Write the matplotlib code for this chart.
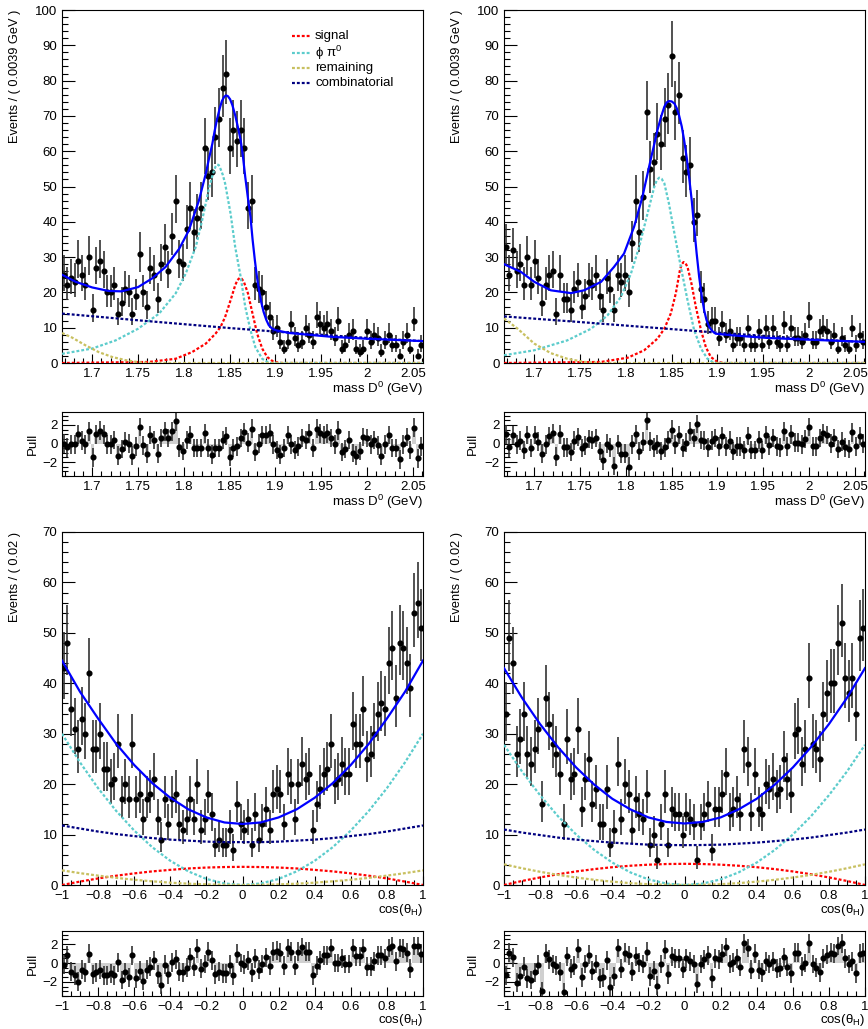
import numpy as np
import matplotlib
matplotlib.use("Agg")
import matplotlib.pyplot as plt
from matplotlib.ticker import MultipleLocator, FuncFormatter
from matplotlib.lines import Line2D

plt.rcParams['font.family'] = ['Liberation Sans', 'DejaVu Sans']
plt.rcParams['mathtext.fontset'] = 'custom'
plt.rcParams['mathtext.rm'] = 'Liberation Sans'
plt.rcParams['mathtext.it'] = 'Liberation Sans:italic'

# binning
nbins = 100
mass_range = (1.667, 2.061)
cos_range = (-1.0, 1.0)

# ---- data: mass D0, left and right samples ----
mass_counts_l = [25, 22, 24, 23, 29, 25, 22, 30, 15, 27, 29, 26, 20, 20, 22, 14, 17, 21, 20, 14,
                 19, 31, 20, 16, 27, 25, 18, 28, 33, 26, 36, 46, 29, 28, 38, 44, 37, 41, 44, 61,
                 53, 54, 64, 69, 78, 82, 61, 66, 63, 66, 61, 44, 46, 22, 21, 20, 16, 13, 9, 10,
                 6, 4, 6, 11, 7, 5, 6, 10, 8, 6, 13, 11, 10, 11, 9, 7, 12, 4, 5, 8,
                 9, 4, 3, 4, 9, 6, 8, 7, 3, 6, 8, 5, 5, 2, 6, 8, 4, 12, 2, 5]
mass_pull_l = [0.0, -0.4, -0.1, -0.1, 1.0, 0.3, -0.1, 1.3, -1.5, 1.0, 1.4, 1.0, -0.1, -0.1, 0.4, -1.3, -0.6, 0.2, 0.0, -1.3,
               -0.3, 1.8, -0.2, -1.1, 0.9, 0.4, -1.1, 0.6, 1.3, 0.6, 1.3, 2.4, -0.4, -0.8, 0.4, 0.9, -0.5, -0.5, -0.5, 1.1,
               -0.5, -1.2, -0.5, -0.5, 0.4, 0.8, -1.4, -0.5, -0.3, 0.6, 1.2, 0.1, 1.6, -0.9, 0.0, 0.9, 0.9, 1.1, -0.1, -0.7,
               -1.2, -0.5, 0.9, -0.1, -0.7, -0.3, 0.6, 0.4, 1.1, -0.5, 1.6, 1.1, 0.9, 1.1, 0.6, -0.1, 1.4, -0.9, -0.6, 0.4,
               -1.0, -1.3, -0.8, 0.7, 0.6, -0.1, 0.4, -0.2, -1.3, -0.1, 0.9, -0.5, -0.5, -1.7, -0.1, 0.7, -0.7, 1.7, -1.6, -0.3]

mass_counts_r = [33, 25, 32, 26, 28, 22, 30, 22, 29, 24, 17, 22, 25, 26, 14, 25, 18, 18, 15, 21,
                 23, 16, 19, 23, 22, 25, 19, 15, 24, 21, 15, 25, 23, 25, 20, 34, 46, 37, 47, 71,
                 55, 57, 65, 62, 69, 73, 87, 71, 76, 58, 54, 56, 40, 42, 21, 18, 11, 12, 12, 7,
                 11, 8, 9, 5, 7, 7, 5, 10, 5, 5, 9, 5, 10, 6, 10, 6, 5, 11, 5, 10,
                 7, 7, 6, 8, 13, 6, 6, 9, 10, 9, 6, 8, 4, 7, 5, 4, 10, 5, 8, 6]
mass_pull_r = [1.0, -0.4, 0.9, -0.1, 0.3, -0.7, 0.9, -0.5, 0.9, 0.2, -1.1, -0.1, 0.8, 1.1, -1.4, 1.0, -0.4, -0.4, -0.9, 0.3,
               0.7, -0.5, -0.2, 0.5, 0.4, 0.6, -0.8, -1.8, 0.0, -0.4, -2.4, -0.1, -1.1, -1.1, -2.5, -0.1, 1.0, -0.8, 0.2, 2.5,
               0.2, -0.4, -0.1, -0.8, -0.4, 0.4, 1.5, -0.1, 0.9, -0.5, 0.1, 1.3, 0.6, 2.1, 0.4, 0.3, -0.4, 0.3, 0.6, -0.3,
               0.8, -0.3, 0.3, -0.8, -0.3, -0.3, -0.7, 0.8, -0.7, -0.7, 0.4, -0.7, 0.9, -0.2, 0.6, -0.3, -0.4, 1.3, -0.3, 1.0,
               0.1, 0.1, -0.1, 0.5, 1.8, -0.3, -0.3, 0.6, 1.1, 0.9, 0.0, 0.6, -0.6, 0.2, -0.4, -0.6, 1.2, -0.3, 0.8, 0.0]

# ---- data: cos(theta_H) ----
cos_counts_l = [43, 48, 35, 31, 27, 33, 30, 42, 27, 27, 30, 23, 23, 20, 21, 28, 17, 20, 17, 28,
                17, 18, 13, 17, 18, 21, 13, 9, 17, 12, 17, 18, 12, 11, 13, 17, 13, 20, 11, 13,
                18, 14, 8, 9, 8, 8, 11, 7, 16, 12, 11, 13, 8, 14, 9, 12, 15, 11, 18, 19,
                18, 12, 22, 20, 13, 20, 24, 21, 22, 11, 16, 19, 22, 23, 28, 20, 21, 24, 22, 22,
                32, 28, 28, 35, 25, 26, 30, 34, 36, 35, 44, 47, 37, 48, 47, 44, 39, 54, 56, 51]
cos_pull_l = [-0.2, 0.8, -0.9, -1.3, -2.0, -0.7, -1.0, 1.0, -1.2, -1.0, -0.7, -1.3, -1.3, -1.1, -1.3, 0.1, -1.8, -1.0, -1.5, 0.8,
              -1.6, -0.8, -1.9, -0.7, -0.4, 0.3, -1.2, -2.3, -0.2, -1.2, 0.1, 0.4, -0.9, -1.0, -0.5, 0.6, -0.4, 1.5, -0.6, -0.1,
              1.2, 0.3, -1.2, -0.9, -1.1, -1.1, -0.2, -1.3, 1.0, 0.0, -0.2, 0.3, -1.0, 0.5, -0.7, -0.1, 0.6, -0.3, 1.2, 1.3,
              1.1, -0.3, 1.6, 1.2, -0.3, 1.2, 1.7, 1.2, 1.2, -1.3, -0.3, 0.3, 0.8, 0.8, 1.6, 0.0, 0.0, 0.5, -0.1, -0.1,
              1.6, 0.7, 0.7, 1.5, -0.4, -0.4, 0.2, 0.8, 0.8, 0.5, 1.6, 1.8, 0.2, 1.6, 1.5, 1.1, -0.6, 1.8, 1.8, 1.0]

cos_counts_r = [34, 49, 44, 26, 29, 34, 26, 24, 27, 31, 16, 37, 32, 28, 26, 22, 12, 29, 21, 22,
                31, 15, 21, 25, 16, 19, 12, 12, 19, 8, 11, 24, 13, 20, 18, 11, 17, 14, 13, 18,
                8, 10, 5, 12, 18, 8, 15, 14, 14, 10, 14, 13, 12, 5, 12, 14, 16, 7, 15, 15,
                18, 22, 14, 15, 17, 14, 27, 24, 14, 22, 15, 14, 20, 19, 21, 18, 19, 25, 21, 18,
                30, 31, 24, 27, 41, 28, 27, 25, 34, 38, 40, 40, 48, 52, 41, 38, 41, 34, 49, 51]
cos_pull_r = [-1.3, 1.1, 0.6, -2.1, -1.4, -0.4, -1.6, -1.8, -1.0, -0.2, -3.0, 1.0, 0.4, -0.1, -0.3, -0.9, -3.1, 0.7, -0.6, -0.3,
              1.5, -1.5, -0.1, 0.9, -0.8, -0.1, -1.6, -1.5, 0.3, -2.5, -1.4, 1.6, -0.6, 1.1, 0.8, -0.9, 0.7, 0.1, -0.1, 1.2,
              -1.4, -0.8, -2.4, -0.1, 1.4, -1.2, 0.7, 0.5, 0.5, -0.6, 0.5, 0.2, -0.1, -2.2, -0.1, 0.4, 0.8, -1.6, 0.5, 0.4,
              1.0, 1.7, -0.1, 0.1, 0.5, -0.4, 2.1, 1.6, -0.7, 1.0, -0.7, -1.0, 0.2, -0.1, 0.2, -0.6, -0.5, 0.6, -0.4, -1.1,
              1.1, 1.1, -0.4, 0.0, 2.1, -0.1, -0.5, -1.0, 0.5, 0.9, 1.1, 1.0, 1.8, 2.1, 0.5, -0.1, 0.2, -1.1, 1.0, 1.1]

# ---- fit curves (values read at sample points) ----
tot_l_x = [1.667, 1.682, 1.70, 1.718, 1.732, 1.75, 1.765, 1.78, 1.795, 1.8055, 1.8164, 1.824, 1.8275, 1.831,
           1.8335, 1.836, 1.839, 1.8415, 1.844, 1.846, 1.848, 1.8505, 1.853, 1.856, 1.859, 1.862, 1.8645,
           1.867, 1.8698, 1.8727, 1.875, 1.8775, 1.8797, 1.882, 1.8845, 1.887, 1.89, 1.8927, 1.896, 1.90,
           1.915, 1.962, 1.998, 2.061]
tot_l_y = [25.0, 23.0, 21.4, 20.4, 20.3, 21.5, 23.9, 27.2, 32.4, 37.6, 46.0, 53.7, 58.0, 62.0,
           65.6, 68.8, 72.0, 74.2, 75.4, 75.8, 75.6, 74.7, 73.0, 70.2, 66.8, 63.1, 58.5,
           52.7, 47.0, 41.4, 35.0, 29.1, 24.5, 20.6, 17.2, 14.5, 12.2, 10.7, 9.8, 9.3,
           8.5, 7.4, 6.9, 6.2]
phi_l_x = [1.667, 1.70, 1.7255, 1.75, 1.773, 1.791, 1.802, 1.813, 1.82, 1.827, 1.8305, 1.833, 1.8345, 1.8364,
           1.838, 1.84, 1.8425, 1.845, 1.851, 1.856, 1.862, 1.867, 1.8727, 1.878, 1.8855, 1.893, 2.061]
phi_l_y = [2.6, 4.1, 6.4, 9.7, 14.0, 19.7, 25.3, 32.9, 40.5, 49.0, 52.5, 54.6, 55.6, 56.2,
           56.1, 55.0, 53.3, 50.9, 42.3, 32.9, 24.4, 15.9, 9.3, 4.5, 1.2, 0.0, 0.0]
sig_l_x = [1.667, 1.762, 1.791, 1.809, 1.824, 1.8345, 1.84, 1.845, 1.851, 1.856, 1.8585, 1.861, 1.863,
           1.8655, 1.87, 1.8745, 1.88, 1.8855, 1.891, 1.898, 1.907, 2.061]
sig_l_y = [0.0, 0.3, 1.2, 3.1, 5.5, 8.3, 10.2, 13.0, 17.8, 22.0, 23.5, 24.1, 23.9,
           23.0, 19.7, 14.5, 8.3, 4.1, 1.7, 0.3, 0.0, 0.0]
rem_l_x = [1.667, 1.678, 1.6927, 1.707, 1.7218, 1.7364, 1.751, 1.765, 2.061]
rem_l_y = [8.5, 7.2, 5.0, 3.1, 1.7, 0.8, 0.2, 0.0, 0.0]
comb_l_x = [1.667, 1.75, 1.80, 1.85, 1.90, 1.95, 2.0, 2.061]
comb_l_y = [14.0, 12.1, 11.0, 9.9, 8.9, 8.0, 7.1, 6.2]

tot_r_x = [1.667, 1.6855, 1.70, 1.718, 1.74, 1.7545, 1.773, 1.787, 1.798, 1.809, 1.818, 1.827, 1.831,
           1.8345, 1.8385, 1.842, 1.8445, 1.847, 1.85, 1.853, 1.8555, 1.858, 1.861, 1.8636, 1.8665, 1.869,
           1.872, 1.8745, 1.8772, 1.88, 1.8828, 1.8855, 1.888, 1.891, 1.8945, 1.898, 1.918, 1.9545, 2.0, 2.061]
tot_r_y = [28.0, 25.8, 23.0, 20.6, 19.8, 20.6, 23.0, 27.2, 31.0, 38.6, 47.0, 57.5, 62.0,
           66.0, 69.8, 72.6, 73.8, 74.2, 74.1, 73.5, 72.2, 70.2, 67.0, 63.1, 58.0, 52.7,
           45.8, 38.6, 31.2, 24.4, 19.0, 14.9, 12.2, 10.2, 9.0, 8.3, 7.8, 7.1, 6.6, 6.0]
phi_r_x = [1.667, 1.70, 1.736, 1.762, 1.78, 1.7945, 1.8055, 1.8145, 1.8236, 1.831, 1.8338, 1.8364, 1.839,
           1.842, 1.847, 1.853, 1.86, 1.8673, 1.8745, 1.882, 1.889, 1.8964, 2.061]
phi_r_y = [2.2, 3.6, 6.4, 9.7, 13.5, 18.7, 25.3, 32.9, 42.3, 49.9, 51.8, 52.5, 52.2,
           50.9, 45.2, 36.7, 27.2, 17.8, 9.3, 4.1, 1.2, 0.0, 0.0]
sig_r_x = [1.667, 1.773, 1.802, 1.82, 1.8345, 1.842, 1.849, 1.8545, 1.859, 1.861, 1.863, 1.865, 1.8673, 1.8716,
           1.8764, 1.882, 1.8873, 1.8927, 1.90, 1.907, 2.061]
sig_r_y = [0.0, 0.3, 1.5, 3.6, 6.9, 9.7, 14.0, 19.7, 26.3, 28.0, 28.6, 28.3, 27.2, 22.5,
           15.9, 9.3, 4.5, 1.7, 0.3, 0.0, 0.0]
rem_r_x = [1.667, 1.682, 1.70, 1.718, 1.736, 1.7545, 1.773, 2.061]
rem_r_y = [12.6, 9.7, 5.5, 2.8, 1.2, 0.3, 0.0, 0.0]
comb_r_x = [1.667, 1.75, 1.80, 1.85, 1.90, 1.95, 2.0, 2.061]
comb_r_y = [13.2, 11.6, 10.6, 9.6, 8.6, 7.7, 6.8, 5.9]

cos_x = [-1.0, -0.9, -0.8, -0.7, -0.6, -0.5, -0.4, -0.3, -0.2, -0.1, 0.0,
         0.1, 0.2, 0.3, 0.4, 0.5, 0.6, 0.7, 0.8, 0.9, 1.0]
tot_cl = [44.5, 38.3, 33.0, 28.0, 23.8, 20.2, 17.3, 15.0, 13.4, 12.4, 12.1,
          12.4, 13.4, 15.0, 17.3, 20.2, 23.8, 28.0, 33.0, 38.3, 44.5]
phi_cl = [30.0, 24.3, 19.2, 14.7, 10.8, 7.5, 4.8, 2.7, 1.2, 0.3, 0.0,
          0.3, 1.2, 2.7, 4.8, 7.5, 10.8, 14.7, 19.2, 24.3, 30.0]
sig_cl = [0.0, 0.68, 1.3, 1.84, 2.3, 2.7, 3.0, 3.28, 3.46, 3.56, 3.6,
          3.56, 3.46, 3.28, 3.0, 2.7, 2.3, 1.84, 1.3, 0.68, 0.0]
rem_cl = [2.9, 2.35, 1.86, 1.42, 1.04, 0.73, 0.46, 0.26, 0.12, 0.03, 0.0,
          0.03, 0.12, 0.26, 0.46, 0.73, 1.04, 1.42, 1.86, 2.35, 2.9]
comb_cl = [11.8, 11.2, 10.6, 10.1, 9.7, 9.3, 9.0, 8.8, 8.6, 8.5, 8.5,
           8.5, 8.6, 8.8, 9.0, 9.3, 9.7, 10.1, 10.6, 11.2, 11.8]

tot_cr = [43.0, 37.1, 31.9, 27.3, 23.3, 19.9, 17.1, 15.0, 13.4, 12.5, 12.2,
          12.5, 13.4, 15.0, 17.1, 19.9, 23.3, 27.3, 31.9, 37.1, 43.0]
phi_cr = [27.8, 22.5, 17.8, 13.6, 10.0, 6.95, 4.45, 2.5, 1.11, 0.28, 0.0,
          0.28, 1.11, 2.5, 4.45, 6.95, 10.0, 13.6, 17.8, 22.5, 27.8]
sig_cr = [0.0, 0.8, 1.5, 2.14, 2.69, 3.15, 3.53, 3.82, 4.03, 4.16, 4.2,
          4.16, 4.03, 3.82, 3.53, 3.15, 2.69, 2.14, 1.5, 0.8, 0.0]
rem_cr = [4.1, 3.32, 2.62, 2.0, 1.48, 1.03, 0.66, 0.37, 0.16, 0.04, 0.0,
          0.04, 0.16, 0.37, 0.66, 1.03, 1.48, 2.0, 2.62, 3.32, 4.1]
comb_cr = [11.0, 10.4, 9.9, 9.4, 9.0, 8.7, 8.4, 8.2, 8.0, 7.93, 7.9,
           7.93, 8.0, 8.2, 8.4, 8.7, 9.0, 9.4, 9.9, 10.4, 11.0]

legend_labels = ['signal', 'ϕ π$^{0}$', 'remaining', 'combinatorial']
comp_colors = ['#ff0000', '#5ccccc', '#c8c060', '#000080']
total_color = '#0000ff'

W, H = 868, 1029
fig = plt.figure(figsize=(W / 100, H / 100), dpi=100)


def rect(l, t, r, b):
    return [l / W, 1 - b / H, (r - l) / W, (b - t) / H]


def num_fmt(v, pos):
    s = '%g' % round(v, 4)
    return s.replace('-', '\u2212')


DOT = (0, (1.3, 0.9))


def style_axis(ax, xlim, ylim, xmaj, xmin, ymaj, ymin, ylen=9):
    ax.set_xlim(*xlim)
    ax.set_ylim(*ylim)
    ax.xaxis.set_major_locator(MultipleLocator(xmaj))
    ax.xaxis.set_minor_locator(MultipleLocator(xmin))
    ax.yaxis.set_major_locator(MultipleLocator(ymaj))
    ax.yaxis.set_minor_locator(MultipleLocator(ymin))
    ax.xaxis.set_major_formatter(FuncFormatter(num_fmt))
    ax.yaxis.set_major_formatter(FuncFormatter(num_fmt))
    ax.tick_params(which='both', direction='in', top=False, right=False,
                   labelsize=9.5, width=0.8)
    ax.tick_params(axis='x', which='major', length=6.5, pad=3.5)
    ax.tick_params(axis='x', which='minor', length=3.3)
    ax.tick_params(axis='y', which='major', length=ylen, pad=3.2)
    ax.tick_params(axis='y', which='minor', length=ylen / 2)
    for sp in ax.spines.values():
        sp.set_linewidth(0.8)


def draw_main(box, rng, counts, curves, ylim, xmaj, xmin, xlabel, ylabel, lx, ly):
    ax = fig.add_axes(rect(*box))
    w = (rng[1] - rng[0]) / nbins
    centers = rng[0] + (np.arange(nbins) + 0.5) * w
    n = np.array(counts, dtype=float)
    lo = np.sqrt(n + 0.25) - 0.5
    hi = np.sqrt(n + 0.25) + 0.5
    ax.errorbar(centers, n, yerr=[lo, hi], fmt='o', ms=3.4, color='black',
                ecolor='#333333', elinewidth=1.2, capsize=0, zorder=2)
    for (xs, ys), c in zip(curves[:4], comp_colors):
        ax.plot(xs, ys, color=c, lw=1.6, ls=DOT, zorder=3)
    xs, ys = curves[4]
    ax.plot(xs, ys, color=total_color, lw=1.6, zorder=4)
    style_axis(ax, rng, ylim, xmaj, xmin, 10, 2, ylen=9)
    fig.text(box[2] / W, 1 - lx / H, xlabel, ha='right', va='center', fontsize=9.5)
    fig.text(ly / W, 1 - box[1] / H, ylabel, rotation=90, ha='center', va='top', fontsize=9.2)
    return ax


def draw_pull(box, rng, pulls, xmaj, xmin, xlabel, lx, ly):
    ax = fig.add_axes(rect(*box))
    w = (rng[1] - rng[0]) / nbins
    centers = rng[0] + (np.arange(nbins) + 0.5) * w
    p = np.array(pulls)
    ax.bar(centers, p, width=w, color='#d0d0d0', edgecolor='none', zorder=1)
    ax.errorbar(centers, p, yerr=1.0, fmt='o', ms=3.4, color='black',
                ecolor='#333333', elinewidth=1.2, capsize=0, zorder=2)
    style_axis(ax, rng, (-3.5, 3.4), xmaj, xmin, 2, 0.5, ylen=9)
    fig.text(box[2] / W, 1 - lx / H, xlabel, ha='right', va='center', fontsize=9.5)
    fig.text(ly / W, 1 - (box[1] + box[3]) / 2 / H, 'Pull', rotation=90,
             ha='center', va='center', fontsize=9.5)
    return ax


mass_label = 'mass D$^{0}$ (GeV)'
cos_label = 'cos(θ$_{\\rm H}$)'

draw_main((62, 10, 423, 363), mass_range, mass_counts_l,
          [(sig_l_x, sig_l_y), (phi_l_x, phi_l_y), (rem_l_x, rem_l_y),
           (comb_l_x, comb_l_y), (tot_l_x, tot_l_y)],
          (0, 100), 0.05, 0.01, mass_label, 'Events / ( 0.0039 GeV )', 389, 15)
draw_main((504, 10, 865, 363), mass_range, mass_counts_r,
          [(sig_r_x, sig_r_y), (phi_r_x, phi_r_y), (rem_r_x, rem_r_y),
           (comb_r_x, comb_r_y), (tot_r_x, tot_r_y)],
          (0, 100), 0.05, 0.01, mass_label, 'Events / ( 0.0039 GeV )', 389, 457)
draw_main((62, 532, 423, 885), cos_range, cos_counts_l,
          [(cos_x, sig_cl), (cos_x, phi_cl), (cos_x, rem_cl),
           (cos_x, comb_cl), (cos_x, tot_cl)],
          (0, 70), 0.2, 0.05, cos_label, 'Events / ( 0.02 )', 910, 15)
draw_main((504, 532, 865, 885), cos_range, cos_counts_r,
          [(cos_x, sig_cr), (cos_x, phi_cr), (cos_x, rem_cr),
           (cos_x, comb_cr), (cos_x, tot_cr)],
          (0, 70), 0.2, 0.05, cos_label, 'Events / ( 0.02 )', 910, 457)

draw_pull((62, 412, 423, 476), mass_range, mass_pull_l, 0.05, 0.01, mass_label, 502, 33)
draw_pull((504, 412, 865, 476), mass_range, mass_pull_r, 0.05, 0.01, mass_label, 502, 473)
draw_pull((62, 931, 423, 996), cos_range, cos_pull_l, 0.2, 0.05, cos_label, 1020, 33)
draw_pull((504, 931, 865, 996), cos_range, cos_pull_r, 0.2, 0.05, cos_label, 1020, 473)

# legend of the top-left panel, drawn row by row
legend_rows = [36, 53, 68, 83]
for row, c, lab in zip(legend_rows, comp_colors, legend_labels):
    fig.add_artist(Line2D([292 / W, 310 / W], [1 - row / H, 1 - row / H],
                          color=c, lw=1.6, ls=DOT))
    fig.text(315 / W, 1 - row / H, lab, ha='left', va='center', fontsize=9.5)

fig.savefig('out.png', dpi=100)
